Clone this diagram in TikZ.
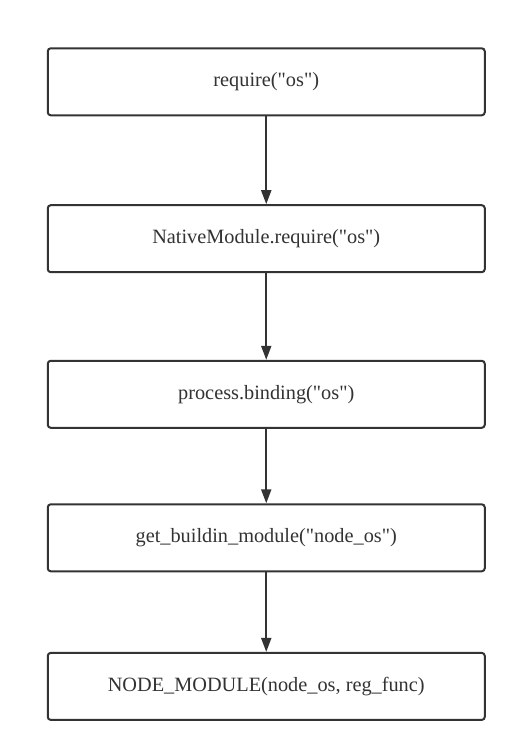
\documentclass[tikz,border=0pt]{standalone}
\usepackage{fontspec}
\setmainfont{Liberation Serif}[Ligatures=TeXOff]
\usetikzlibrary{arrows.meta}
\definecolor{ink}{HTML}{333333}
\newcommand{\lowtext}[1]{\raisebox{-3pt}{#1}}
\begin{document}
\begin{tikzpicture}[x=1pt,y=1pt,
  stepbox/.style={draw=ink, line width=2pt, rounded corners=3pt, minimum width=437pt, minimum height=67pt, inner sep=0pt, text=ink, font=\fontsize{20.3}{24}\selectfont},
  flow/.style={draw=ink, line width=2pt, -{Triangle[length=14pt,width=10pt]}}]
\useasboundingbox (0,0) rectangle (517,753);
\fill[white] (0,0) rectangle (517,753);
\node[stepbox] (a) at (266.25,753-81.8) {\lowtext{require("os")}};
\node[stepbox] (b) at (266.25,753-238.7) {\lowtext{NativeModule.require("os")}};
\node[stepbox] (c) at (266.25,753-394.3) {\lowtext{process.binding("os")}};
\node[stepbox] (d) at (266.25,753-537.8) {\lowtext{get\_buildin\_module("node\_os")}};
\node[stepbox] (e) at (266.25,753-686.4) {\lowtext{NODE\_MODULE(node\_os, reg\_func)}};
\draw[flow] (a) -- (b);
\draw[flow] (b) -- (c);
\draw[flow] (c) -- (d);
\draw[flow] (d) -- (e);
\end{tikzpicture}
\end{document}
